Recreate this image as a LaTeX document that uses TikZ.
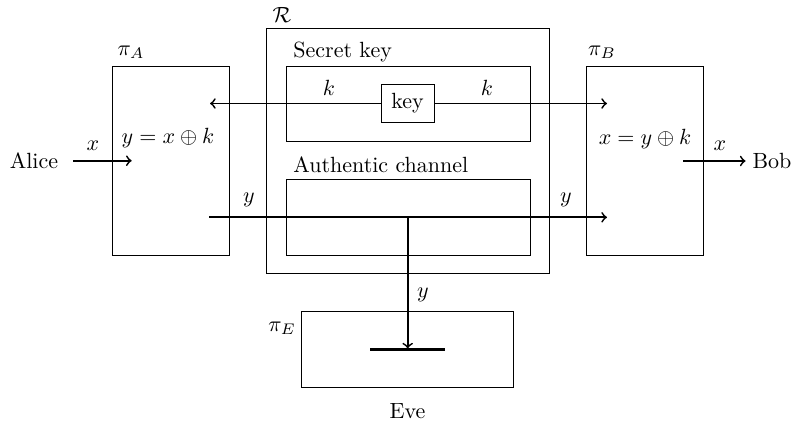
\documentclass[tikz,border=0pt]{standalone}
\usepackage{amsmath,amssymb}
\begin{document}
\begin{tikzpicture}[x=0.4545pt,y=-0.4545pt,
  box/.style={draw,line width=0.4pt,rectangle,inner sep=0pt},
  conn/.style={line width=0.8pt},
  arr/.style={conn,->},
  lbl/.style={inner sep=0pt}]
\useasboundingbox (0,0) rectangle (801,428);
% boxes
\node[box,minimum width=53.2pt,minimum height=85.9pt] (piA) at (170.5,160.5) {};
\node[box,minimum width=128.6pt,minimum height=111.4pt] (R) at (407.5,151) {};
\node[box,minimum width=110.9pt,minimum height=34.3pt] (SK) at (408,104.2) {};
\node[box,minimum width=110.9pt,minimum height=34.3pt] (AC) at (408,217.2) {};
\node[box,minimum width=53.2pt,minimum height=85.9pt] (piB) at (645.2,160.5) {};
\node[box,minimum width=96.2pt,minimum height=34.4pt] (piE) at (407.5,349.5) {};
\node[box,fill=white,minimum width=24.1pt,minimum height=17.3pt] (key) at (407.5,103.5) {key};
% labels
\node[lbl] (lR) at (282,15) {$\mathcal{R}$};
\node[lbl] (lpiA) at (131,52) {$\pi_A$};
\node[lbl] (lpiB) at (602,52) {$\pi_B$};
\node[lbl] (lpiE) at (282,328) {$\pi_E$};
\node[lbl,anchor=west] (lSK) at (293,52) {Secret key};
\node[lbl,anchor=west] (lAC) at (293,165) {Authentic channel};
\node[lbl] (k1) at (329,88) {$k$};
\node[lbl] (k2) at (487,88) {$k$};
\node[lbl] (y1) at (249,200) {$y$};
\node[lbl] (y2) at (566,200) {$y$};
\node[lbl] (y3) at (423,295) {$y$};
\node[lbl] (eqA) at (168,138) {$y = x \oplus k$};
\node[lbl] (eqB) at (645,139) {$x = y \oplus k$};
\node[lbl] (x1) at (93,146) {$x$};
\node[lbl] (x2) at (720,146) {$x$};
\node[lbl] (Alice) at (34,160.5) {Alice};
\node[lbl] (Bob) at (772,161) {Bob};
\node[lbl] (Eve) at (407.5,411) {Eve};
% coordinates
\coordinate (kA) at (210,103.5);
\coordinate (kB) at (607,103.5);
\coordinate (yA) at (209,217.3);
\coordinate (yB) at (607,217.3);
\coordinate (yM) at (407.7,217.3);
\coordinate (yE) at (407.7,348.5);
\coordinate (barL) at (370,349.7);
\coordinate (barR) at (445,349.7);
\coordinate (aS) at (73,160.7);
\coordinate (aT) at (131.7,160.7);
\coordinate (bS) at (683,161);
% connectors
\draw[arr] (key.west) -- (kA);
\draw[arr] (key.east) -- (kB);
\draw[arr] (yA) -- (yB);
\draw[arr] (yM) -- (yE);
\draw[line width=1.6pt] (barL) -- (barR);
\draw[arr] (aS) -- (aT);
\draw[arr,shorten >=3pt] (bS) -- (Bob.west);
\end{tikzpicture}
\end{document}
